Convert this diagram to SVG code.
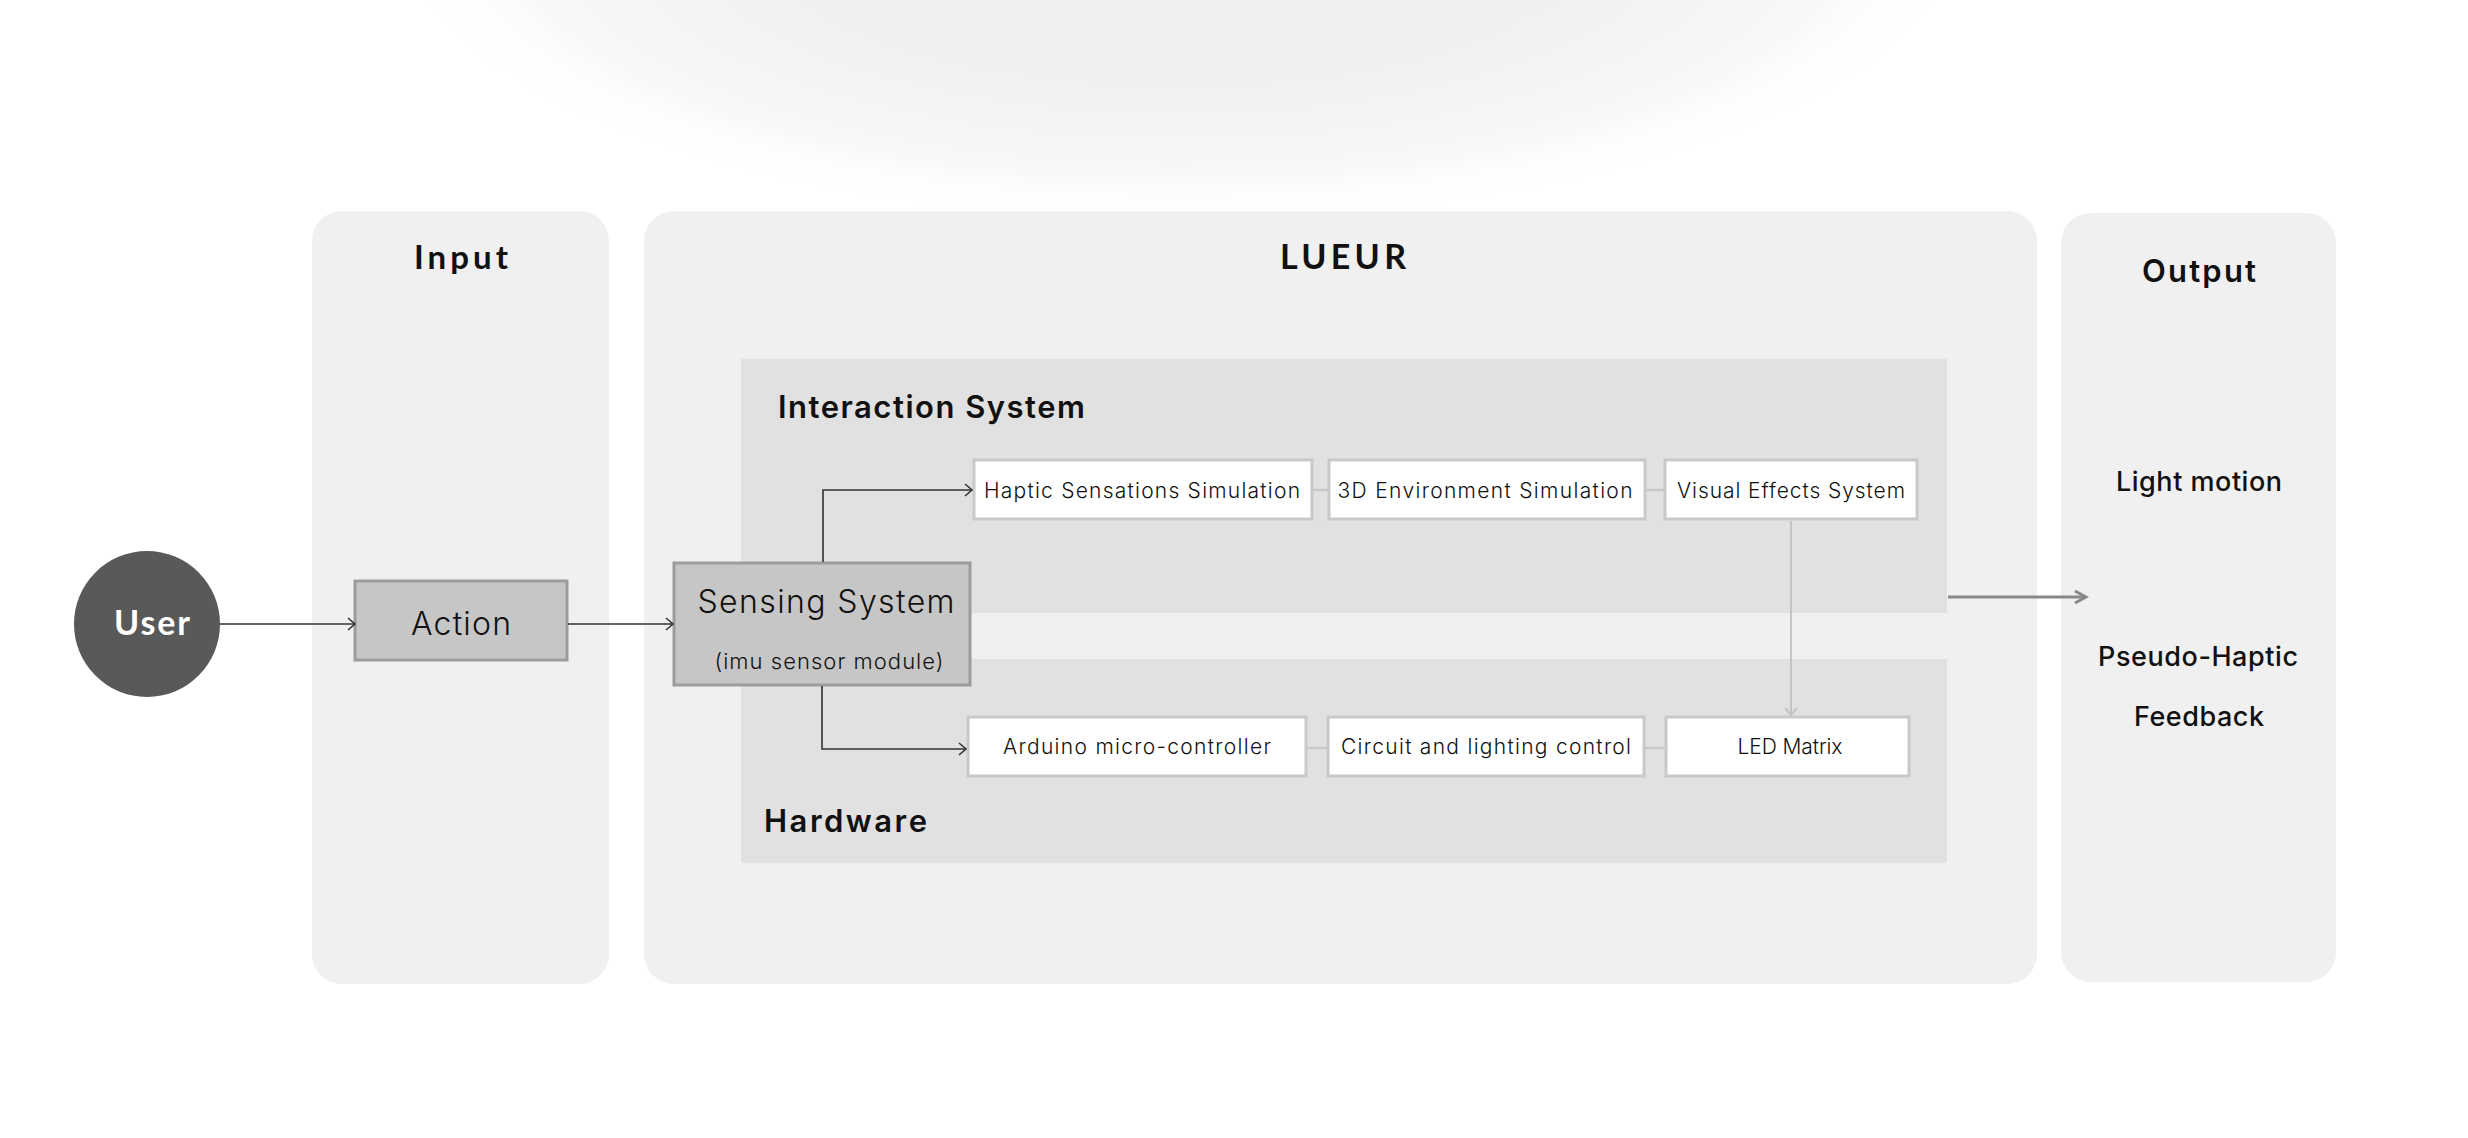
<svg xmlns="http://www.w3.org/2000/svg" width="2468" height="1138" viewBox="0 0 2468 1138">
<defs>
<radialGradient id="glow" cx="0.5" cy="0.5" r="0.5">
<stop offset="0" stop-color="#f0f0f0"/>
<stop offset="0.55" stop-color="#f1f1f1"/>
<stop offset="0.85" stop-color="#f8f8f8"/>
<stop offset="1" stop-color="#ffffff" stop-opacity="0"/>
</radialGradient>
<marker id="arrB" markerWidth="12" markerHeight="14" refX="10" refY="7" orient="auto" markerUnits="userSpaceOnUse">
<path d="M3,1 L10,7 L3,13" fill="none" stroke="#333" stroke-width="1.6"/>
</marker>
<marker id="arrG" markerWidth="12" markerHeight="14" refX="10" refY="7" orient="auto" markerUnits="userSpaceOnUse">
<path d="M3,1 L10,7 L3,13" fill="none" stroke="#c4c4c4" stroke-width="2"/>
</marker>
<marker id="arrD" markerWidth="16" markerHeight="16" refX="13" refY="8" orient="auto" markerUnits="userSpaceOnUse">
<path d="M2,2 L13,8 L2,14" fill="none" stroke="#888" stroke-width="3"/>
</marker>
</defs>
<style>
.panel{fill:#f0f0f0}
.sub{fill:#e1e1e1}
.gbox{fill:#c6c6c6;stroke:#9c9c9c;stroke-width:3}
.wbox{fill:#ffffff;stroke:#c9c9c9;stroke-width:3}
.ttl{font-family:Lato,"Noto Sans",sans-serif;font-weight:700;fill:#111}
.hd{font-family:Inter,"Noto Sans",sans-serif;font-weight:600;fill:#111}
.lt{font-family:Inter,"Noto Sans",sans-serif;font-weight:300;fill:#111}
.sm{font-family:Inter,"Noto Sans",sans-serif;font-weight:300;fill:#111;font-size:21px}
.out{font-family:Inter,"Noto Sans",sans-serif;font-weight:500;fill:#111;font-size:27px}
.blk{fill:none;stroke:#333;stroke-width:1.6}
.gry{fill:none;stroke:#c8c8c8;stroke-width:2.5}
</style>
<rect width="2468" height="1138" fill="#ffffff"/>
<ellipse cx="1180" cy="-70" rx="780" ry="290" fill="url(#glow)"/>

<g id="input-panel">
<rect class="panel" x="312" y="211" width="297" height="773" rx="30"/>
<text class="ttl" x="461" y="269" font-size="33" text-anchor="middle" textLength="94">Input</text>
</g>
<g id="lueur-panel">
<rect class="panel" x="644" y="211" width="1393" height="773" rx="30"/>
<text class="ttl" x="1343" y="269" font-size="34" text-anchor="middle" textLength="126">LUEUR</text>
</g>
<g id="output-panel">
<rect class="panel" x="2061" y="213" width="275" height="769" rx="30"/>
<text class="hd" x="2199" y="282" font-size="31" text-anchor="middle" textLength="114" font-weight="700">Output</text>
</g>
<g id="interaction-system">
<rect class="sub" x="741" y="359" width="1206" height="254"/>
<text class="hd" x="778" y="418" font-size="31" textLength="307">Interaction System</text>
</g>
<g id="hardware">
<rect class="sub" x="741" y="659" width="1206" height="204"/>
<text class="hd" x="764" y="832" font-size="31" textLength="163" font-weight="500">Hardware</text>
</g>

<g id="user">
<circle cx="147" cy="624" r="73" fill="#5a595a"/>
<text class="ttl" x="152" y="635" font-size="34" style="fill:#fff" text-anchor="middle" textLength="76">User</text>
</g>
<g id="action">
<rect class="gbox" x="355" y="581" width="212" height="79"/>
<text class="lt" x="461" y="635" font-size="32" text-anchor="middle" textLength="100">Action</text>
</g>
<g id="sensing-system">
<rect class="gbox" x="674" y="563" width="296" height="122"/>
<text class="lt" x="826" y="613" font-size="32" text-anchor="middle" textLength="257">Sensing System</text>
<text class="lt" x="829" y="669" font-size="22" text-anchor="middle" textLength="229" font-weight="400">(imu sensor module)</text>
</g>
<g id="haptic">
<rect class="wbox" x="974" y="460" width="338" height="59"/>
<text class="sm" x="1142" y="498" text-anchor="middle" textLength="316">Haptic Sensations Simulation</text>
</g>
<g id="environment">
<rect class="wbox" x="1329" y="460" width="316" height="59"/>
<text class="sm" x="1485" y="498" text-anchor="middle" textLength="295">3D Environment Simulation</text>
</g>
<g id="visual">
<rect class="wbox" x="1665" y="460" width="252" height="59"/>
<text class="sm" x="1791" y="498" text-anchor="middle" textLength="228">Visual Effects System</text>
</g>
<g id="arduino">
<rect class="wbox" x="968" y="717" width="338" height="59"/>
<text class="sm" x="1137" y="754" text-anchor="middle" textLength="268">Arduino micro-controller</text>
</g>
<g id="circuit">
<rect class="wbox" x="1328" y="717" width="316" height="59"/>
<text class="sm" x="1486" y="754" text-anchor="middle" textLength="290">Circuit and lighting control</text>
</g>
<g id="led">
<rect class="wbox" x="1666" y="717" width="243" height="59"/>
<text class="sm" x="1790" y="754" text-anchor="middle" textLength="105">LED Matrix</text>
</g>
<g id="light-motion">
<text class="out" x="2199" y="491" text-anchor="middle" textLength="166">Light motion</text>
</g>
<g id="pseudo-haptic">
<text class="out" x="2198" y="666" text-anchor="middle" textLength="200">Pseudo-Haptic</text>
<text class="out" x="2199" y="726" text-anchor="middle" textLength="130">Feedback</text>
</g>

<g id="connectors">
<line class="blk" x1="220" y1="624" x2="355" y2="624" marker-end="url(#arrB)"/>
<line class="blk" x1="568" y1="624" x2="673" y2="624" marker-end="url(#arrB)"/>
<path class="blk" d="M823,562 V490 H972" marker-end="url(#arrB)"/>
<path class="blk" d="M822,686 V749 H966" marker-end="url(#arrB)"/>
<line class="gry" x1="1313" y1="490" x2="1328" y2="490"/>
<line class="gry" x1="1646" y1="490" x2="1664" y2="490"/>
<line class="gry" x1="1307" y1="748" x2="1327" y2="748"/>
<line class="gry" x1="1645" y1="748" x2="1665" y2="748"/>
<line x1="1791" y1="521" x2="1791" y2="715" stroke="#c4c4c4" stroke-width="2" marker-end="url(#arrG)"/>
<line x1="1948" y1="597" x2="2086" y2="597" stroke="#888" stroke-width="3" marker-end="url(#arrD)"/>
</g>
</svg>
